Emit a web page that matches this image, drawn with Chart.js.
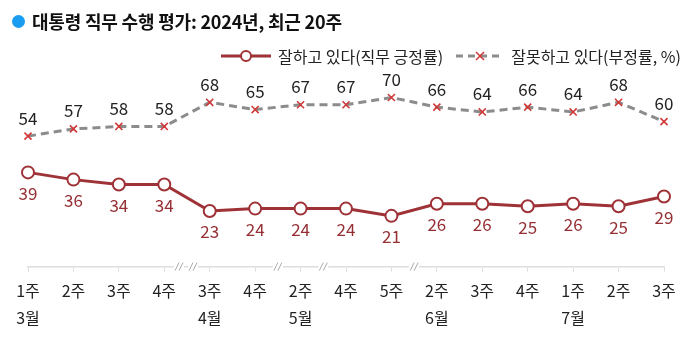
<!DOCTYPE html>
<html><head><meta charset="utf-8">
<script src="https://cdn.jsdelivr.net/npm/chart.js@4"></script>
<style>
html,body{margin:0;padding:0;background:#fff;}
#wrap{position:relative;width:700px;height:356px;font-family:"Noto Sans CJK KR","Noto Sans",sans-serif;}
canvas{position:absolute;left:0;top:0;}
#title{position:absolute;left:12px;top:8px;font-size:18px;font-weight:bold;color:#111;white-space:nowrap;display:flex;align-items:center;letter-spacing:-0.2px}
#title .dot{display:inline-block;width:13px;height:13px;border-radius:50%;background:#1a9cf0;margin-right:7px}
#legend{position:absolute;left:220px;top:44px;font-size:16px;color:#222;white-space:nowrap;display:flex;align-items:center}
#legend svg{margin-right:6px}
</style></head>
<body><div id="wrap">
<canvas id="c" width="700" height="356"></canvas>
<div id="title"><span class="dot"></span>대통령 직무 수행 평가: 2024년, 최근 20주</div>
<div id="legend">
<svg width="52" height="14"><line x1="1" y1="7" x2="51" y2="7" stroke="#9e3237" stroke-width="3"/><circle cx="26" cy="7" r="5" fill="#fff" stroke="#9e3237" stroke-width="2"/></svg>
<span style="margin-right:12px">잘하고 있다(직무 긍정률)</span>
<svg width="50" height="14"><line x1="1" y1="7" x2="49" y2="7" stroke="#8c8c8c" stroke-width="3" stroke-dasharray="7,5"/><line x1="21" y1="3" x2="29" y2="11" stroke="#d23a3a" stroke-width="1.6"/><line x1="29" y1="3" x2="21" y2="11" stroke="#d23a3a" stroke-width="1.6"/></svg>
<span>잘못하고 있다(부정률, %)</span>
</div>
</div>
<script>
const weeks = ["1주","2주","3주","4주","3주","4주","2주","4주","5주","2주","3주","4주","1주","2주","3주"];
const months = ["3월","","","","4월","","5월","","","6월","","","7월","",""];
const approve = [39,36,34,34,23,24,24,24,21,26,26,25,26,25,29];
const disapprove = [54,57,58,58,68,65,67,67,70,66,64,66,64,68,60];
const breaks = [[3,4,2],[5,6,1],[6,7,1],[8,9,1]]; // between index a and b, count of "//"

const labels = weeks.map((w,i)=>[w, months[i]]);

const labelPlugin = {
  id:'labels',
  afterDatasetsDraw(chart){
    const ctx = chart.ctx;
    ctx.save();
    ctx.font = '17px "Noto Sans CJK KR", "Noto Sans", sans-serif';
    ctx.textAlign = 'center';
    ctx.textBaseline = 'middle';
    const m0 = chart.getDatasetMeta(0), m1 = chart.getDatasetMeta(1);
    m0.data.forEach((p,i)=>{ ctx.fillStyle='#952f34'; ctx.fillText(String(approve[i]), p.x, p.y+21); });
    m1.data.forEach((p,i)=>{ ctx.fillStyle='#222'; ctx.fillText(String(disapprove[i]), p.x, p.y-18); });
    // break marks
    const xs = chart.scales.x, yb = chart.chartArea.bottom;
    ctx.strokeStyle = '#aaa'; ctx.lineWidth = 1;
    breaks.forEach(([a,b,n])=>{
      const mid = (xs.getPixelForValue(a)+xs.getPixelForValue(b))/2;
      const centers = n===2 ? [mid-8, mid+6] : [mid];
      centers.forEach(c=>{
        ctx.fillStyle='#fff'; ctx.fillRect(c-5, yb-2, 10, 4);
        [-2,2].forEach(d=>{ ctx.beginPath(); ctx.moveTo(c+d-2, yb+4); ctx.lineTo(c+d+2, yb-4); ctx.stroke(); });
      });
    });
    ctx.restore();
  }
};

new Chart(document.getElementById('c'), {
  type:'line',
  data:{ labels, datasets:[
    { label:'잘하고 있다(직무 긍정률)', data:approve, borderColor:'#9e3237', borderWidth:3,
      pointStyle:'circle', pointRadius:6, pointBackgroundColor:'#fff', pointBorderColor:'#9e3237', pointBorderWidth:2, tension:0 },
    { label:'잘못하고 있다(부정률, %)', data:disapprove, borderColor:'#8c8c8c', borderWidth:3, borderDash:[8,5],
      pointStyle:'crossRot', pointRadius:5, pointBorderColor:'#d23a3a', pointBorderWidth:1.6, pointBackgroundColor:'#d23a3a', tension:0 }
  ]},
  options:{
    responsive:false, animation:false,
    layout:{ padding:{ left:28, right:36, top:25, bottom:18 } },
    plugins:{ legend:{display:false}, tooltip:{enabled:false} },
    scales:{
      y:{ display:false, min:0, max:100 },
      x:{ offset:false,
        grid:{ display:true, drawOnChartArea:false, drawTicks:true, tickLength:5, color:'#ddd' },
        border:{ display:true, color:'#ddd', width:1.5 },
        ticks:{ color:'#222', padding:6, autoSkip:false, maxRotation:0, font:{ size:16, family:'"Noto Sans CJK KR", "Noto Sans", sans-serif', lineHeight:1.7 } }
      }
    }
  },
  plugins:[labelPlugin]
});
</script>
</body></html>
